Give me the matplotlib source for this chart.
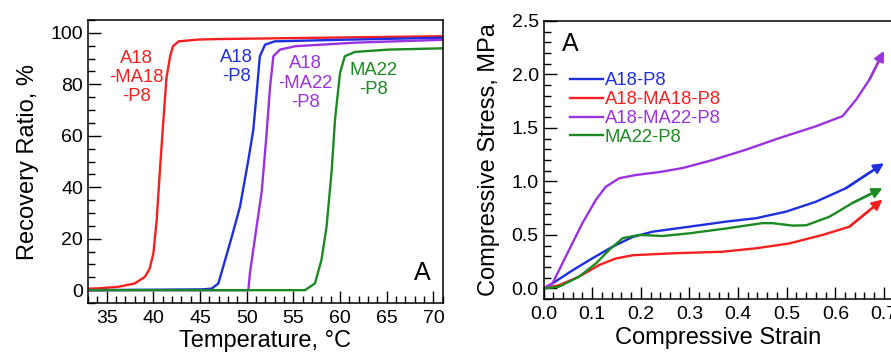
#!/usr/bin/env python3
"""Shape recovery vs temperature and compressive stress-strain curves."""
import matplotlib
matplotlib.use('Agg')
import matplotlib.pyplot as plt
from matplotlib.ticker import MultipleLocator, FormatStrFormatter

COL = {'red': '#f42020', 'blue': '#1d2fe0', 'purple': '#9a32e0', 'green': '#1c8a22'}

# panel 1: recovery ratio vs temperature
t_red = [33, 34.1, 36.25, 38.0, 39.1, 39.6, 40.0, 40.35, 40.7, 41.07, 41.4, 41.8, 42.1, 42.7, 44.8, 47, 60, 71]
r_red = [0.6, 0.7, 1.3, 2.6, 5.2, 8.4, 14.3, 27, 46.7, 66, 82.5, 91, 94.8, 96.7, 97.4, 97.6, 98.2, 98.7]
t_blue = [33, 45.2, 46.24, 46.96, 47.68, 48.4, 49.28, 50.17, 50.7, 51.06, 51.4, 51.96, 53.0, 60, 71]
r_blue = [0, 0.3, 0.6, 2.6, 11.7, 20.8, 32.5, 50.6, 62.3, 76.6, 90.9, 95.4, 96.7, 97.3, 98.1]
t_purple = [33, 50.17, 50.35, 50.9, 51.6, 52.1, 52.5, 52.85, 53.56, 55.2, 61.6, 71]
r_purple = [0, 0, 7, 20.8, 38.3, 59.7, 79.2, 90.9, 93.5, 94.8, 96.2, 97.3]
t_green = [33, 56.24, 57.3, 58.0, 58.55, 59.1, 59.45, 59.99, 60.5, 61.6, 65.2, 71]
r_green = [0, 0, 2.6, 11.7, 24.7, 46.7, 66.2, 84.4, 90.9, 92.6, 93.5, 94]

# panel 2: compressive stress vs strain
s_purple = [0, 0.0185, 0.046, 0.080, 0.108, 0.128, 0.156, 0.19, 0.238, 0.286, 0.348, 0.416, 0.485, 0.56, 0.615, 0.643, 0.67, 0.70]
p_purple = [0, 0.047, 0.30, 0.61, 0.83, 0.95, 1.03, 1.06, 1.087, 1.125, 1.20, 1.296, 1.405, 1.515, 1.61, 1.765, 1.95, 2.22]
s_blue = [0, 0.0185, 0.060, 0.10, 0.142, 0.183, 0.224, 0.30, 0.375, 0.437, 0.499, 0.56, 0.622, 0.70]
p_blue = [0, 0.047, 0.17, 0.28, 0.39, 0.48, 0.53, 0.577, 0.624, 0.656, 0.718, 0.81, 0.937, 1.17]
s_red = [0, 0.032, 0.073, 0.115, 0.149, 0.183, 0.265, 0.368, 0.437, 0.505, 0.574, 0.629, 0.697]
p_red = [0, 0.03, 0.11, 0.22, 0.28, 0.31, 0.328, 0.343, 0.375, 0.42, 0.50, 0.577, 0.83]
s_green = [0, 0.032, 0.073, 0.108, 0.135, 0.163, 0.197, 0.245, 0.30, 0.375, 0.45, 0.471, 0.512, 0.54, 0.588, 0.636, 0.697]
p_green = [0, 0.016, 0.11, 0.234, 0.36, 0.47, 0.50, 0.49, 0.515, 0.56, 0.61, 0.61, 0.587, 0.59, 0.67, 0.80, 0.937]


def style(ax):
    ax.tick_params(which='both', direction='in', top=False, right=False, labelsize=14)
    ax.tick_params(which='major', length=9, width=1)
    ax.tick_params(which='minor', length=5, width=1)
    ax.tick_params(axis='x', pad=5)
    for sp in ax.spines.values():
        sp.set_linewidth(1.1)


def main():
    plt.rcParams.update({'font.family': ['Liberation Sans', 'DejaVu Sans']})
    fig = plt.figure(figsize=(8.91, 3.54), dpi=100, facecolor='white')
    ax1 = fig.add_axes([0.0988, 0.144, 0.3982, 0.7995])
    ax2 = fig.add_axes([0.610, 0.155, 0.393, 0.786])

    # a recovery curves
    lw = 1.7
    ax1.plot(t_red, r_red, color=COL['red'], lw=lw)
    ax1.plot(t_blue, r_blue, color=COL['blue'], lw=lw)
    ax1.plot(t_purple, r_purple, color=COL['purple'], lw=lw)
    ax1.plot(t_green, r_green, color=COL['green'], lw=lw)
    ax1.set_xlim(33, 71)
    ax1.set_ylim(-5, 105)
    ax1.xaxis.set_major_locator(MultipleLocator(5))
    ax1.xaxis.set_minor_locator(MultipleLocator(1))
    ax1.yaxis.set_major_locator(MultipleLocator(20))
    ax1.yaxis.set_minor_locator(MultipleLocator(5))
    style(ax1)
    ax1.set_xlabel('Temperature, °C', fontsize=17, labelpad=2)
    ax1.set_ylabel('Recovery Ratio, %', fontsize=17, labelpad=8)
    tk = dict(ha='center', va='center', fontsize=13.3, linespacing=1.16)
    ax1.text(38.2, 82.5, 'A18\n-MA18\n-P8', color=COL['red'], **tk)
    ax1.text(48.9, 86.6, 'A18\n-P8', color=COL['blue'], **tk)
    ax1.text(56.24, 80.5, 'A18\n-MA22\n-P8', color=COL['purple'], **tk)
    ax1.text(63.55, 81.8, 'MA22\n-P8', color=COL['green'], **tk)
    ax1.text(68.8, 6.5, 'A', fontsize=18, ha='center', va='center')

    # b stress-strain with arrowheads
    series = [(s_blue, p_blue, COL['blue'], 'A18-P8'),
              (s_red, p_red, COL['red'], 'A18-MA18-P8'),
              (s_purple, p_purple, COL['purple'], 'A18-MA22-P8'),
              (s_green, p_green, COL['green'], 'MA22-P8')]
    for xs, ys, c, lab in series:
        slope = (ys[-1] - ys[-2]) / (xs[-1] - xs[-2])
        ax2.plot(xs[:-1] + [xs[-1] - 0.008], ys[:-1] + [ys[-1] - 0.008 * slope],
                 color=c, lw=lw, label=lab)
        ax2.annotate('', xy=(xs[-1], ys[-1]), xytext=(xs[-2], ys[-2]),
                     arrowprops=dict(arrowstyle='-|>', color=c, lw=lw, mutation_scale=15,
                                     shrinkA=0, shrinkB=0))
    ax2.set_xlim(0, 0.72)
    ax2.set_ylim(-0.1, 2.5)
    ax2.xaxis.set_major_locator(MultipleLocator(0.1))
    ax2.xaxis.set_minor_locator(MultipleLocator(0.02))
    ax2.yaxis.set_major_locator(MultipleLocator(0.5))
    ax2.yaxis.set_minor_locator(MultipleLocator(0.1))
    ax2.xaxis.set_major_formatter(FormatStrFormatter('%.1f'))
    ax2.yaxis.set_major_formatter(FormatStrFormatter('%.1f'))
    style(ax2)
    ax2.set_xlabel('Compressive Strain', fontsize=17, labelpad=3)
    ax2.set_ylabel('Compressive Stress, MPa', fontsize=17, labelpad=8)
    ax2.text(0.056, 2.28, 'A', fontsize=18, ha='center', va='center')
    ax2.legend(loc='upper left', bbox_to_anchor=(0.075, 0.815), frameon=False, fontsize=13.3,
               handlelength=1.8, handletextpad=0.1, labelspacing=0.1, borderpad=0,
               borderaxespad=0, labelcolor='linecolor')

    fig.savefig('out.png', dpi=100)
    plt.close(fig)


if __name__ == '__main__':
    main()
